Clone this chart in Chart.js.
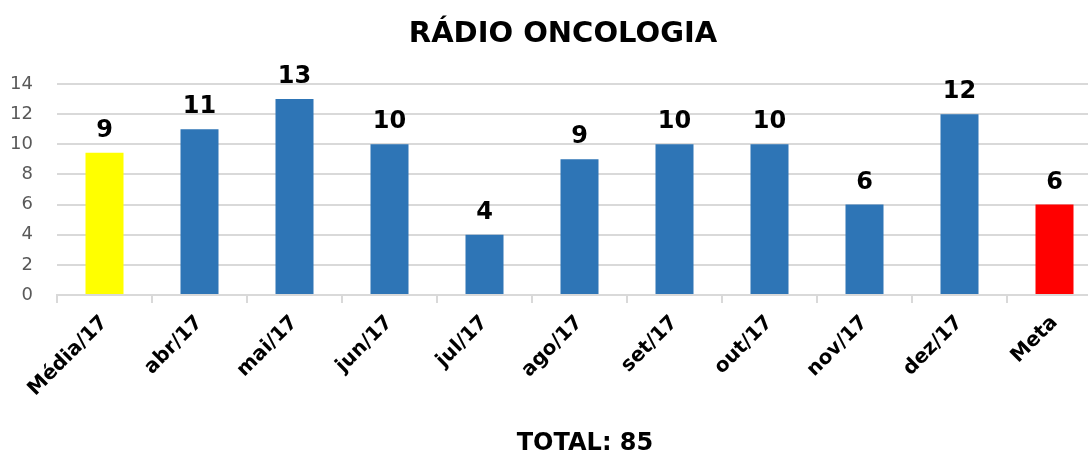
<!DOCTYPE html>
<html>
<head>
<meta charset="utf-8">
<script src="https://cdn.jsdelivr.net/npm/chart.js@4"></script>
<style>
  body { margin: 0; overflow: hidden; background: #fff; font-family: "DejaVu Sans", sans-serif; }
  #wrap { position: absolute; left: 0; top: 0; width: 1110px; height: 454px; }
  .txt { position: absolute; left: 0; text-align: center; font-weight: bold; color: #000; }
  #title { top: 15px; width: 1126px; font-size: 29px; }
  #total { top: 428px; width: 1170px; font-size: 24px; }
</style>
</head>
<body>
<div id="wrap">
  <canvas id="myChart" width="1110" height="454"></canvas>
  <div id="title" class="txt">RÁDIO ONCOLOGIA</div>
  <div id="total" class="txt">TOTAL: 85</div>
</div>
<script>
// chart data
const categories = ["Média/17", "abr/17", "mai/17", "jun/17", "jul/17", "ago/17", "set/17", "out/17", "nov/17", "dez/17", "Meta"];
const values = [9.44, 11, 13, 10, 4, 9, 10, 10, 6, 12, 6];
const barColors = ["#FFFF00", "#2E75B6", "#2E75B6", "#2E75B6", "#2E75B6", "#2E75B6", "#2E75B6", "#2E75B6", "#2E75B6", "#2E75B6", "#FF0000"];
const yTicks = [0, 2, 4, 6, 8, 10, 12, 14];

// draws the value over each bar
const valueLabels = {
  id: "valueLabels",
  afterDatasetsDraw(chart) {
    const ctx = chart.ctx;
    const meta = chart.getDatasetMeta(0);
    ctx.save();
    ctx.font = "bold 24px 'DejaVu Sans'";
    ctx.fillStyle = "#000";
    ctx.textAlign = "center";
    ctx.textBaseline = "alphabetic";
    meta.data.forEach((bar, i) => {
      ctx.fillText(Math.floor(values[i]).toString(), bar.x, bar.y - 16);
    });
    ctx.restore();
  }
};

const ctx = document.getElementById("myChart");
new Chart(ctx, {
  type: "bar",
  data: {
    labels: categories,
    datasets: [{
      data: values,
      backgroundColor: barColors,
      borderWidth: 0,
      barPercentage: 0.8,
      categoryPercentage: 0.5
    }]
  },
  options: {
    responsive: false,
    animation: false,
    layout: { padding: { top: 84, left: 0, right: 8, bottom: 45 } },
    plugins: { legend: { display: false }, tooltip: { enabled: false } },
    scales: {
      x: {
        grid: { drawOnChartArea: false, color: "#d9d9d9", lineWidth: 2, tickLength: 8 },
        border: { color: "#d9d9d9", width: 2 },
        ticks: {
          color: "#000",
          font: { family: "DejaVu Sans", size: 20, weight: "bold" },
          maxRotation: 45,
          minRotation: 45,
          padding: 8
        },
        afterFit: (scale) => { scale.paddingLeft = 0; scale.paddingRight = 0; }
      },
      y: {
        min: 0,
        max: 14,
        afterBuildTicks: (axis) => { axis.ticks = yTicks.map((v) => ({ value: v })); },
        afterFit: (scale) => { scale.width = 57; },
        grid: { color: "#d9d9d9", lineWidth: 2, drawTicks: false },
        border: { display: false },
        ticks: {
          color: "#595959",
          font: { family: "DejaVu Sans", size: 18 },
          padding: 24
        }
      }
    }
  },
  plugins: [valueLabels]
});
</script>
</body>
</html>
